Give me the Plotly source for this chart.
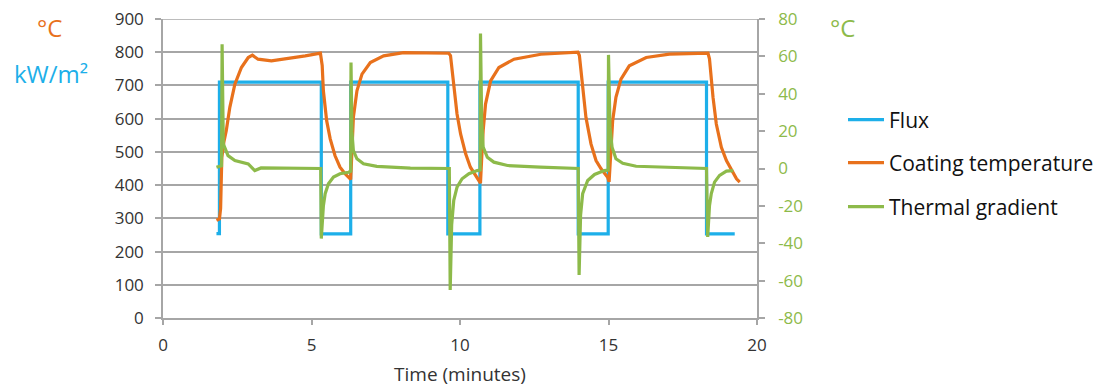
import plotly.graph_objects as go

# ---- data ----
t_flux = [1.80, 1.90, 1.90, 5.33, 5.33, 6.32, 6.32, 9.59, 9.59, 10.67, 10.67,
          13.98, 13.98, 14.99, 14.99, 18.30, 18.30, 19.25]
flux = [254, 254, 710, 710, 253, 253, 710, 710, 253, 253, 710,
        710, 253, 253, 710, 710, 253, 253]

t_coat = [1.80, 1.90, 1.94, 1.98, 2.05, 2.13, 2.25, 2.42, 2.64, 2.87, 3.01, 3.20,
          3.65, 4.22, 4.79, 5.30,
          5.36, 5.40, 5.51, 5.63, 5.79, 5.96, 6.13, 6.32,
          6.36, 6.41, 6.53, 6.70, 6.98, 7.43, 8.10, 8.80, 9.62,
          9.68, 9.79, 9.90, 10.02, 10.19, 10.35, 10.52, 10.69,
          10.73, 10.78, 10.86, 11.03, 11.31, 11.82, 12.72, 13.97,
          14.02, 14.13, 14.24, 14.41, 14.58, 14.75, 14.97, 15.02,
          15.07, 15.14, 15.25, 15.42, 15.70, 16.27, 17.05, 18.35,
          18.40, 18.52, 18.63, 18.80, 18.97, 19.14, 19.31, 19.42]
coating = [294, 298, 330, 483, 530, 564, 634, 704, 754, 784, 791, 779,
           774, 781, 789, 797,
           760, 684, 594, 539, 489, 454, 434, 417,
           500, 604, 684, 734, 769, 789, 799, 799, 797,
           790, 694, 614, 554, 494, 454, 429, 406,
           480, 564, 644, 714, 754, 779, 794, 800,
           790, 694, 604, 524, 474, 449, 424, 410,
           480, 594, 664, 719, 759, 784, 794, 797,
           780, 664, 584, 514, 474, 444, 419, 409]

t_grad = [1.80, 1.97, 1.99, 2.01, 2.03, 2.19, 2.42, 2.87, 3.09, 3.30, 4.00, 4.80, 5.31,
          5.33, 5.40, 5.46, 5.57, 5.74, 5.96, 6.25, 6.32,
          6.33, 6.36, 6.41, 6.53, 6.75, 7.20, 8.33, 9.64,
          9.67, 9.72, 9.79, 9.90, 10.07, 10.30, 10.58, 10.68,
          10.69, 10.73, 10.78, 10.92, 11.14, 11.60, 12.70, 13.98,
          14.01, 14.06, 14.13, 14.30, 14.53, 14.86, 14.99,
          15.00, 15.05, 15.12, 15.25, 15.48, 15.93, 16.83, 18.30,
          18.34, 18.40, 18.46, 18.57, 18.74, 18.97, 19.20]
gradient = [0.7, 1.5, 66.5, 20.0, 13.2, 6.9, 4.3, 2.5, -1.1, 0.3, 0.3, 0.3, 0.0,
            -37.5, -20.0, -13.5, -8.2, -4.6, -2.8, -2.0, -1.5,
            56.7, 20.0, 9.6, 5.2, 2.5, 1.1, 0.2, 0.0,
            -65.0, -30.0, -17.0, -10.0, -5.5, -2.8, -1.1, -0.8,
            72.2, 25.0, 11.4, 6.0, 3.4, 1.6, 0.7, 0.0,
            -57.0, -25.0, -13.5, -6.4, -3.2, -1.1, -0.8,
            60.8, 22.0, 11.4, 5.2, 2.8, 1.2, 0.7, 0.0,
            -36.6, -20.0, -13.5, -7.3, -3.7, -1.4, -1.1]

x_ticks = [0, 5, 10, 15, 20]
left_ticks = [0, 100, 200, 300, 400, 500, 600, 700, 800, 900]
right_ticks = [-80, -60, -40, -20, 0, 20, 40, 60, 80]
right_ticktext = ["-80", "-60", "-40", "-20", "0", "20", "40", "60", "80"]

BLUE = "#1DAFE9"
ORANGE = "#E8711C"
GREEN = "#8DBA4A"
GRID = "#A6A6A6"
TXT = "#333333"
FONT = "Open Sans"

fig = go.Figure()
fig.add_trace(go.Scatter(x=t_flux, y=flux, mode="lines", name="Flux",
                         line=dict(color=BLUE, width=3.2), legend="legend", showlegend=True))
fig.add_trace(go.Scatter(x=t_coat, y=coating, mode="lines", name="Coating temperature",
                         line=dict(color=ORANGE, width=3.2), legend="legend2", showlegend=True))
fig.add_trace(go.Scatter(x=t_grad, y=gradient, mode="lines", name="Thermal gradient",
                         line=dict(color=GREEN, width=3.2), yaxis="y2", legend="legend3",
                         showlegend=True))

# page body has an 8px margin: figure is placed at (8, 8) in the window
OFF = 8
W, H = 1105 - OFF, 387 - OFF
L, R, T, B = 163 - OFF, 348, 19 - OFF, 69
pw, ph = W - L - R, H - T - B

def px(xw):
    return (xw - OFF - L) / pw

def py(yw):
    return (H - B - (yw - OFF)) / ph

leg_common = dict(xanchor="left", yanchor="middle", bgcolor="rgba(0,0,0,0)",
                  borderwidth=0, visible=True, itemwidth=36,
                  font=dict(family=FONT, size=21, color="#111111"))

fig.update_layout(
    width=W, height=H, showlegend=True,
    margin=dict(l=L, r=R, t=T, b=B, autoexpand=False),
    paper_bgcolor="white", plot_bgcolor="white",
    font=dict(family=FONT, size=17, color=TXT),
    xaxis=dict(range=[0, 20], tickvals=x_ticks, showgrid=False, zeroline=False,
               showline=True, linecolor=GRID, linewidth=1.5,
               ticks="outside", ticklen=5, tickcolor=GRID, tickwidth=1.5,
               tickfont=dict(family=FONT, size=17, color=TXT), ticklabelstandoff=6,
               ticklabeloverflow="allow",
               title=dict(text="Time (minutes)", font=dict(family=FONT, size=19, color=TXT),
                          standoff=13)),
    yaxis=dict(range=[0, 900], tickvals=left_ticks, showgrid=True, gridcolor=GRID,
               gridwidth=1.5, zeroline=False, showline=True, linecolor=GRID, linewidth=1.5,
               ticks="outside", ticklen=6, tickcolor=GRID, tickwidth=1.5,
               tickfont=dict(family=FONT, size=17, color=TXT), ticklabelstandoff=8,
               ticklabeloverflow="allow"),
    yaxis2=dict(range=[-80, 80], tickvals=right_ticks, ticktext=right_ticktext,
                overlaying="y", side="right",
                showgrid=False, zeroline=False, showline=True, linecolor=GRID, linewidth=1.5,
                ticks="outside", ticklen=6, tickcolor=GRID, tickwidth=1.5,
                tickfont=dict(family=FONT, size=17, color=GREEN), ticklabelstandoff=10,
                ticklabeloverflow="allow"),
    legend=dict(x=px(843), y=py(120), **leg_common),
    legend2=dict(x=px(843), y=py(163), **leg_common),
    legend3=dict(x=px(843), y=py(207), **leg_common),
    shapes=[
        # top gridline (at the axis maximum) that plotly drops at the plot edge
        dict(type="line", xref="paper", x0=0, x1=1, yref="y", y0=left_ticks[-1],
             y1=left_ticks[-1], line=dict(color=GRID, width=1.5), layer="below"),
    ],
    annotations=[
        dict(text="°C", x=px(49), y=py(28), xref="paper", yref="paper", showarrow=False,
             xanchor="center", yanchor="middle", font=dict(family=FONT, size=24, color=ORANGE)),
        dict(text="kW/m²", x=px(51), y=py(73), xref="paper", yref="paper", showarrow=False,
             xanchor="center", yanchor="middle", font=dict(family=FONT, size=24, color=BLUE)),
        dict(text="°C", x=px(843), y=py(28), xref="paper", yref="paper", showarrow=False,
             xanchor="center", yanchor="middle", font=dict(family=FONT, size=24, color=GREEN)),
    ],
)

fig.write_html("out.html")
